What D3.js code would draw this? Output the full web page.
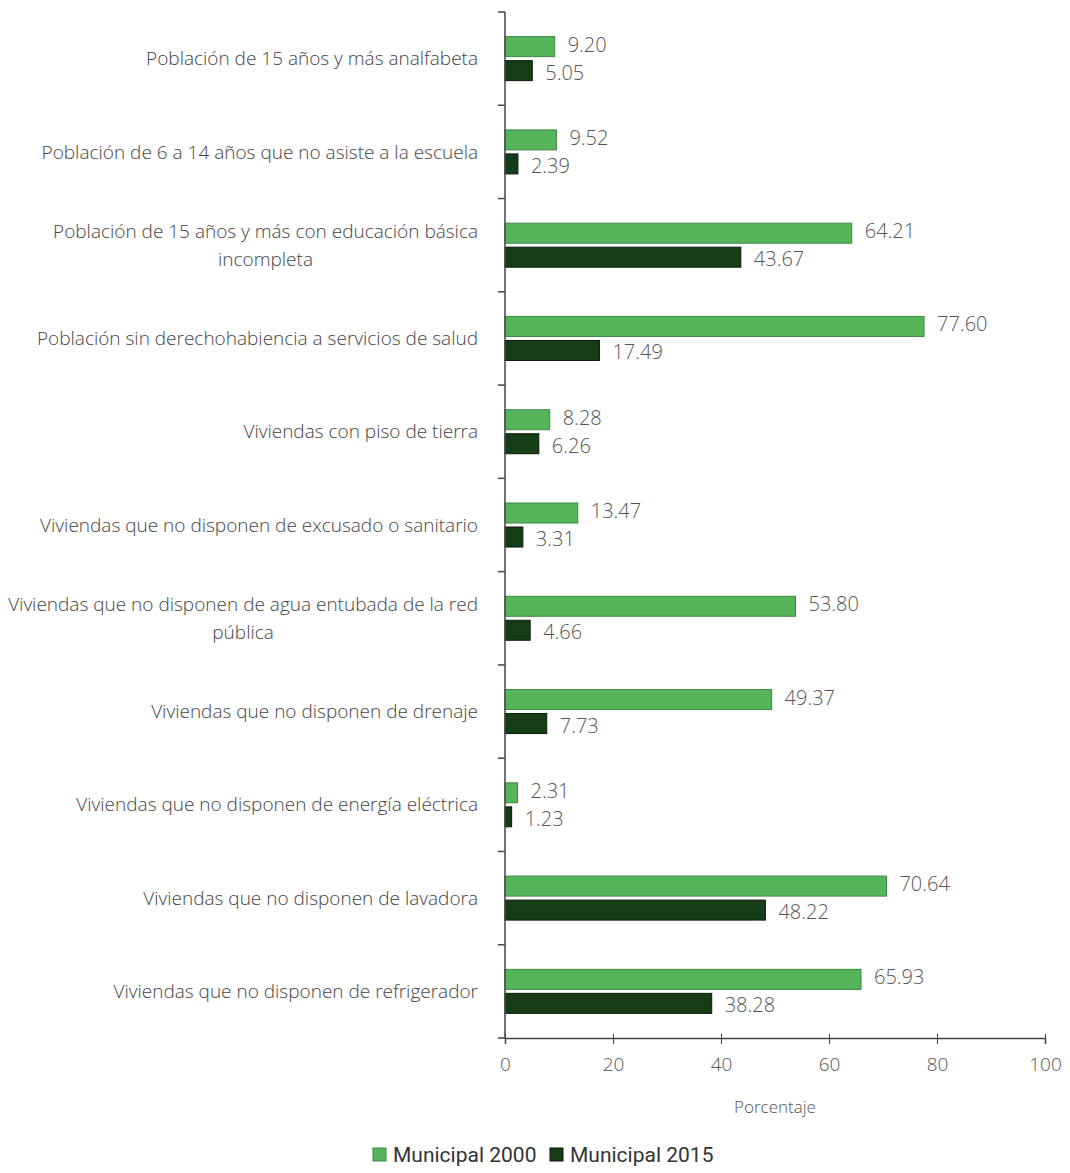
<!DOCTYPE html>
<html>
<head>
<meta charset="utf-8">
<script src="https://cdn.jsdelivr.net/npm/d3@7"></script>
<style>
  body { margin: 0; background: #fff; }
  text { font-family: "Open Sans", Roboto, sans-serif; font-weight: 300; }
</style>
</head>
<body>
<div id="container"></div>
<script>
/* DATA */
const categories = [
  "Población de 15 años y más analfabeta",
  "Población de 6 a 14 años que no asiste a la escuela",
  "Población de 15 años y más con educación básica|incompleta",
  "Población sin derechohabiencia a servicios de salud",
  "Viviendas con piso de tierra",
  "Viviendas que no disponen de excusado o sanitario",
  "Viviendas que no disponen de agua entubada de la red|pública",
  "Viviendas que no disponen de drenaje",
  "Viviendas que no disponen de energía eléctrica",
  "Viviendas que no disponen de lavadora",
  "Viviendas que no disponen de refrigerador"
];
const municipal2000 = [9.20, 9.52, 64.21, 77.60, 8.28, 13.47, 53.80, 49.37, 2.31, 70.64, 65.93];
const municipal2015 = [5.05, 2.39, 43.67, 17.49, 6.26, 3.31, 4.66, 7.73, 1.23, 48.22, 38.28];
const seriesNames = ["Municipal 2000", "Municipal 2015"];
const xTicks = [0, 20, 40, 60, 80, 100];

/* CONSTANTS */
const width = 1070, height = 1173;
const margin = {top: 12, left: 505, right: 25, bottom: 135};
const colors = ["#56b45b", "#173d17"];
const strokes = ["#3d8a42", "#0b1a0b"];

const svg = d3.select("#container").append("svg")
  .attr("width", width)
  .attr("height", height);

const xScale = d3.scaleLinear()
  .domain([0, 100])
  .range([margin.left, width - margin.right]);

const yScale = d3.scaleBand()
  .domain(d3.range(categories.length))
  .range([margin.top, height - margin.bottom]);

const barH = 20, gap = 4;

// bars
const rows = categories.map((c, i) => ({i, vals: [municipal2000[i], municipal2015[i]]}));

const g = svg.append("g");
rows.forEach(r => {
  const mid = yScale(r.i) + yScale.bandwidth() / 2;
  r.vals.forEach((v, s) => {
    const y0 = s === 0 ? mid - barH - gap / 2 : mid + gap / 2;
    g.append("rect")
      .attr("x", xScale(0))
      .attr("y", y0)
      .attr("width", xScale(v) - xScale(0))
      .attr("height", barH)
      .attr("fill", colors[s])
      .attr("stroke", strokes[s])
      .attr("stroke-width", 1);
    g.append("text")
      .attr("x", xScale(v) + 13)
      .attr("y", y0 + barH / 2 + (s === 0 ? -2 : 2))
      .attr("dy", "0.35em")
      .attr("font-size", 20)
      .attr("fill", "#555")
      .text(v.toFixed(2));
  });
});

// x axis
const xAxis = d3.axisBottom(xScale).tickValues(xTicks).tickSize(6).tickPadding(14);
const xg = svg.append("g")
  .attr("transform", `translate(0,${height - margin.bottom})`)
  .call(xAxis);
xg.select(".domain").attr("stroke", "#444").attr("stroke-width", 1.5);
xg.selectAll(".tick line").attr("stroke", "#444").attr("y1", -4);
xg.selectAll(".tick text").attr("font-size", 19).attr("fill", "#555")
  .style("font-family", "'Open Sans', sans-serif").style("font-weight", 300);

svg.append("text")
  .attr("x", (xScale(0) + xScale(100)) / 2)
  .attr("y", height - margin.bottom + 75)
  .attr("text-anchor", "middle")
  .attr("font-size", 17)
  .attr("fill", "#555")
  .text("Porcentaje");

// y axis
const yg = svg.append("g").attr("transform", `translate(${margin.left},0)`);
yg.append("line")
  .attr("y1", margin.top).attr("y2", height - margin.bottom)
  .attr("stroke", "#444").attr("stroke-width", 1.5);
const bounds = d3.range(categories.length + 1).map(i => margin.top + i * yScale.step());
yg.selectAll("line.tk").data(bounds).join("line")
  .attr("class", "tk")
  .attr("x1", -7).attr("x2", 0)
  .attr("y1", d => d).attr("y2", d => d)
  .attr("stroke", "#444").attr("stroke-width", 1.5);

// category labels (block right-aligned, lines centred)
const labelRight = margin.left - 27;
categories.forEach((c, i) => {
  const lines = c.split("|");
  const mid = yScale(i) + yScale.bandwidth() / 2;
  const t = svg.append("text")
    .attr("font-size", 19)
    .attr("fill", "#444");
  const lh = 28;
  const spans = lines.map((l, k) => t.append("tspan")
    .attr("y", mid + (k - (lines.length - 1) / 2) * lh)
    .attr("dy", "0.35em")
    .text(l));
  const maxW = d3.max(spans, s => s.node().getComputedTextLength());
  if (lines.length === 1) {
    t.attr("text-anchor", "end");
    spans[0].attr("x", labelRight);
  } else {
    t.attr("text-anchor", "middle");
    spans.forEach(s => s.attr("x", labelRight - maxW / 2));
  }
});

// legend
const legend = svg.append("g").attr("transform", `translate(0,${height - 18})`);
const legX = [373, 550];
seriesNames.forEach((n, s) => {
  legend.append("rect")
    .attr("x", legX[s]).attr("y", -7)
    .attr("width", 13).attr("height", 13)
    .attr("fill", colors[s])
    .attr("stroke", strokes[s]);
  legend.append("text")
    .attr("x", legX[s] + 20)
    .attr("y", 0)
    .attr("dy", "0.35em")
    .attr("font-size", 21)
    .attr("fill", "#333")
    .style("font-family", "Roboto, sans-serif")
    .style("font-weight", 400)
    .text(n);
});
</script>
</body>
</html>
